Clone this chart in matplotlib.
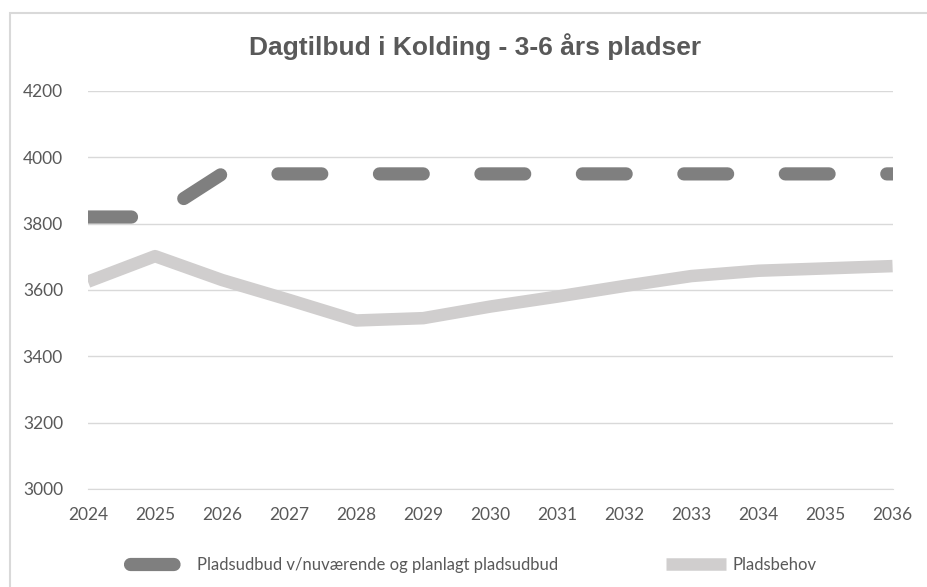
import matplotlib.pyplot as plt
from matplotlib.patches import Rectangle

years = list(range(2024, 2037))
udbud = [3820, 3820, 3950, 3950, 3950, 3950, 3950, 3950, 3950, 3950, 3950, 3950, 3950]
behov = [3625, 3702, 3630, 3570, 3508, 3515, 3550, 3580, 3612, 3642, 3658, 3665, 3672]
yticks = [3000, 3200, 3400, 3600, 3800, 4000, 4200]

title = "Dagtilbud i Kolding - 3-6 års pladser"
label_udbud = "Pladsudbud v/nuværende og planlagt pladsudbud"
label_behov = "Pladsbehov"

TXT = "#595959"
GRID = "#d9d9d9"

fig = plt.figure(figsize=(9.28, 5.87), dpi=100)
ax = fig.add_axes([0.0948, 0.167, 0.867, 0.678])

# outer chart frame (only top/left visible in the source screenshot)
fig.patches.append(Rectangle((10 / 928, -0.05), 1.2, 1 - 13 / 587 + 0.05,
                             transform=fig.transFigure, fill=False,
                             edgecolor="#d9d9d9", lw=1.5))

ax.plot(years, udbud, color="#7f7f7f", lw=9.5, solid_capstyle="round",
        dash_capstyle="round", linestyle=(0.02, (3.32, 4.37)), label=label_udbud,
        zorder=3)
ax.plot(years, behov, color="#d0cece", lw=9, solid_capstyle="butt",
        label=label_behov, zorder=3)

ax.set_xlim(2024, 2036)
ax.set_ylim(3000, 4200)
ax.set_xticks(years)
ax.set_yticks(yticks)
ax.grid(axis="y", color=GRID, lw=1)
ax.set_axisbelow(True)
for s in ["top", "right", "left"]:
    ax.spines[s].set_visible(False)
ax.spines["bottom"].set_color(GRID)
ax.tick_params(length=0, colors=TXT, labelsize=12.5)
ax.tick_params(axis="y", pad=18)
ax.tick_params(axis="x", pad=13)
for lab in ax.get_xticklabels() + ax.get_yticklabels():
    lab.set_family("Lato")

fig.text(0.512, 0.92, title, ha="center", va="center", fontsize=19,
         fontweight="bold", color=TXT, family="Liberation Sans")

leg = fig.legend(loc="center left", bbox_to_anchor=(130 / 928, 0.037), ncol=2,
                 frameon=False, handlelength=3.6, handletextpad=0.4,
                 columnspacing=6.5, labelcolor=TXT, borderaxespad=0, borderpad=0,
                 prop={"family": "Lato", "size": 12})

fig.savefig("out.png", dpi=100)
